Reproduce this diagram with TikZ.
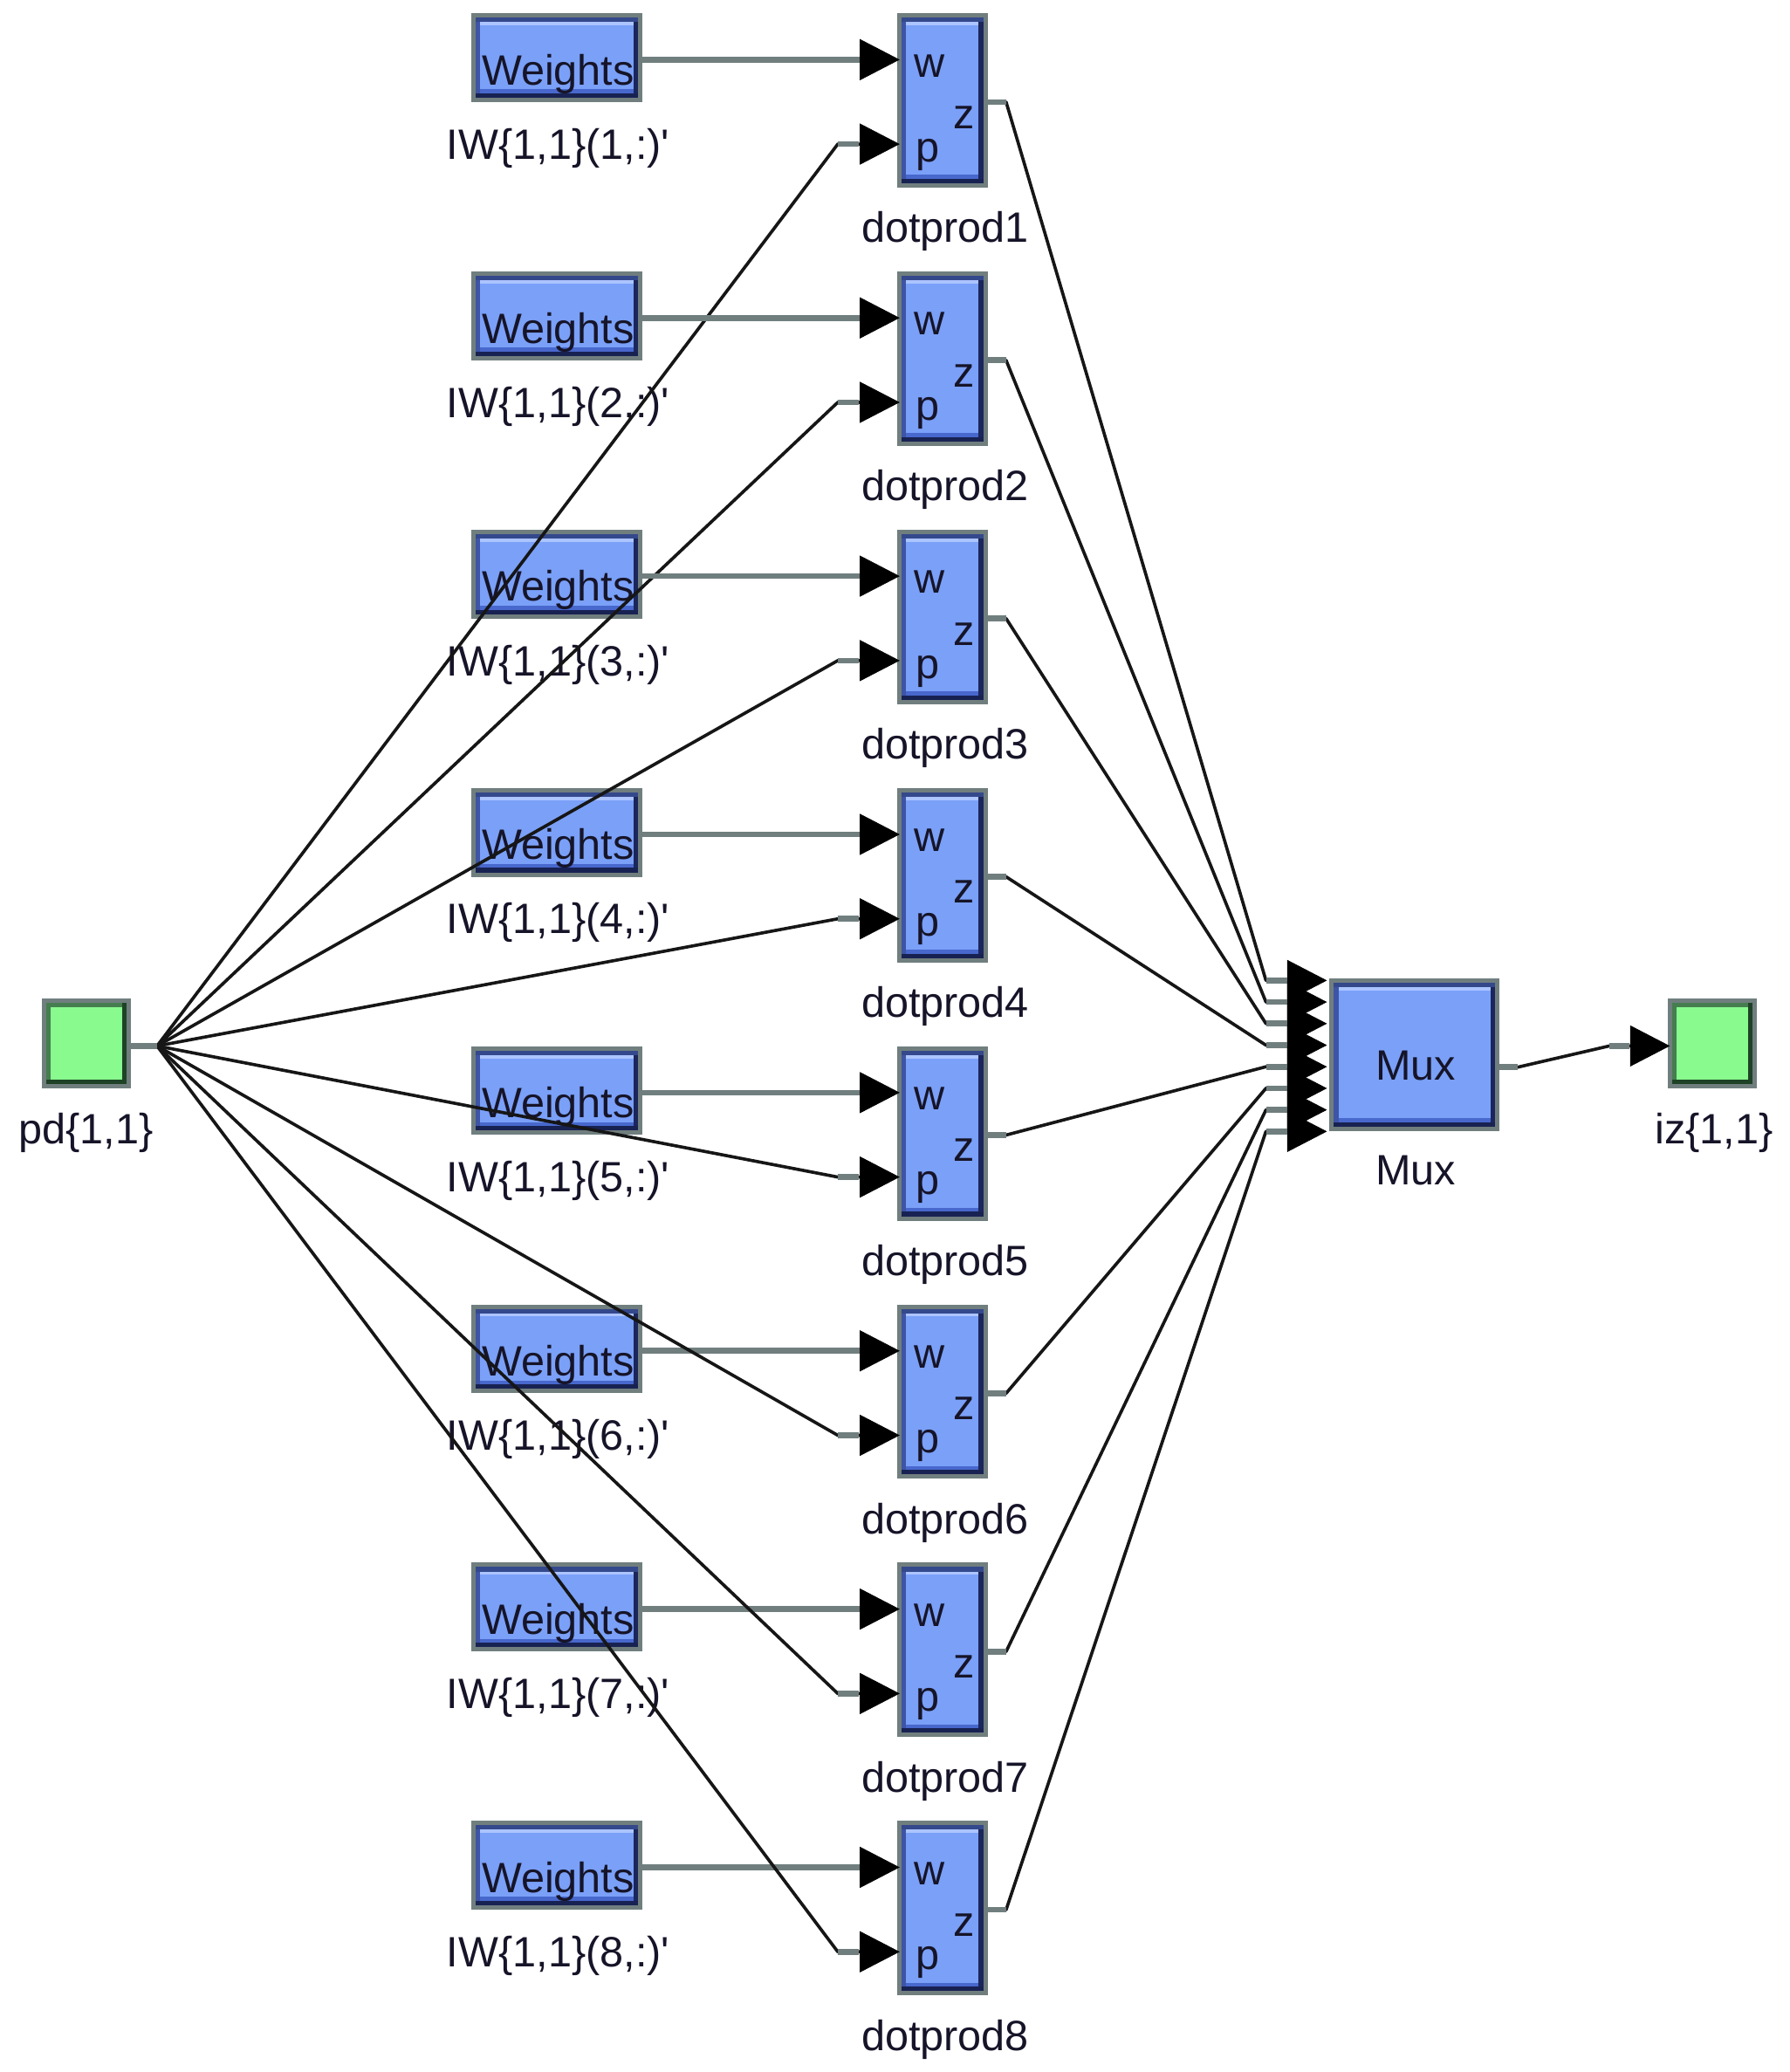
\documentclass[tikz,border=0pt]{standalone}
\usepackage{fontspec}
\setmainfont{Liberation Sans}
\usetikzlibrary{arrows.meta,calc}
\definecolor{bgray}{RGB}{112,126,126}
\definecolor{bfill}{RGB}{122,160,248}
\definecolor{navyT}{RGB}{52,72,140}
\definecolor{navyL}{RGB}{62,84,165}
\definecolor{navyR}{RGB}{26,38,92}
\definecolor{navyB}{RGB}{24,34,82}
\definecolor{bandB}{RGB}{72,104,205}
\definecolor{hilite}{RGB}{172,196,255}
\definecolor{gfill}{RGB}{136,250,142}
\definecolor{gdarkA}{RGB}{70,125,80}
\definecolor{gdarkB}{RGB}{30,66,38}
\definecolor{txt}{RGB}{22,20,40}
\definecolor{wire}{RGB}{22,22,22}
\tikzset{
  box/.style={draw=bgray, line width=3.3pt, inner sep=0pt, outer sep=0pt, anchor=center},
  bluebox/.style={box, fill=bfill, path picture={
      \fill[navyL] (path picture bounding box.south west) rectangle ([xshift=5pt]path picture bounding box.north west);
      \fill[navyR] ([xshift=-5pt]path picture bounding box.south east) rectangle (path picture bounding box.north east);
      \fill[navyT] ([yshift=-5pt]path picture bounding box.north west) rectangle (path picture bounding box.north east);
      \fill[hilite] ([xshift=5pt,yshift=-5pt]path picture bounding box.north west) rectangle ([xshift=-5pt,yshift=-7.5pt]path picture bounding box.north east);
      \fill[bandB] ([xshift=5pt,yshift=5pt]path picture bounding box.south west) rectangle ([xshift=-5pt,yshift=8pt]path picture bounding box.south east);
      \fill[navyB] (path picture bounding box.south west) rectangle ([yshift=5pt]path picture bounding box.south east);
  }},
  greenbox/.style={box, fill=gfill, path picture={
      \fill[gdarkA] (path picture bounding box.south west) rectangle ([xshift=5pt]path picture bounding box.north west);
      \fill[gdarkA] ([yshift=-5pt]path picture bounding box.north west) rectangle (path picture bounding box.north east);
      \fill[gdarkB] ([xshift=-5pt]path picture bounding box.south east) rectangle (path picture bounding box.north east);
      \fill[gdarkB] (path picture bounding box.south west) rectangle ([yshift=5pt]path picture bounding box.south east);
  }},
  wtbox/.style={bluebox, minimum width=125.7pt, minimum height=63.7pt},
  dpbox/.style={bluebox, minimum width=64.7pt, minimum height=128.3pt},
  muxbox/.style={bluebox, minimum width=124.7pt, minimum height=111.7pt},
  iobox/.style={greenbox, minimum width=64.2pt, minimum height=64.7pt},
  lbl/.style={inner sep=0pt, outer sep=0pt, anchor=base, text=txt, font=\fontsize{32}{38}\selectfont},
  wirel/.style={draw=wire, line width=2.4pt, line join=round},
  stub/.style={draw=bgray, line width=4.4pt},
  endtip/.style={-{Triangle[length=30pt,width=31pt,color=black,fill=black,line width=0.4pt]}},
}
\begin{document}
\begin{tikzpicture}[x=1pt,y=-1pt]
\useasboundingbox (0,0) rectangle (1350,1563);
% in/out boxes
\node[iobox] (pd) at (65.2,787) {};
\node[lbl] (pdl) at (65,862.6) {pd\{1,1\}};
\node[iobox] (iz) at (1291.8,787) {};
\node[lbl] (izl) at (1293,862.6) {iz\{1,1\}};
\node[muxbox] (mux) at (1067,795.5) {};
\node[lbl] (muxt) at (1068,814.6) {Mux};
\node[lbl] (muxl) at (1068,894) {Mux};
\coordinate (pdfan) at (118.5,789);
% rows
\foreach \i in {1,...,8}{
  \pgfmathsetmacro{\o}{(\i-1)*194.8}
  \pgfmathsetmacro{\mi}{739.6+(\i-1)*16.27}
  \node[wtbox] (w\i) at (420,43.5+\o) {};
  \node[lbl] (wt\i) at (421,64+\o) {Weights};
  \node[lbl] (wl\i) at (421,120+\o) {IW\{1,1\}(\i,:)\textquotesingle};
  \node[dpbox] (d\i) at (711,75.8+\o) {};
  \node[lbl] (pw\i) at (701,58+\o) {w};
  \node[lbl] (pz\i) at (727,97+\o) {z};
  \node[lbl] (pp\i) at (700,122+\o) {p};
  \node[lbl] (dl\i) at (713,183+\o) {dotprod\i};
  \coordinate (dw\i) at (678,45+\o);
  \coordinate (ps\i) at (632,108.7+\o);
  \coordinate (dp\i) at (678,108.7+\o);
  \coordinate (zs\i) at (759,77+\o);
  \coordinate (mi\i) at (955,\mi);
  \coordinate (ma\i) at (1001,\mi);
}
% connectors
\foreach \i in {1,...,8}{
  \draw[stub,endtip] (w\i.east |- dw\i) -- (d\i.west |- dw\i);
  \draw[wirel,endtip] (pdfan) -- (ps\i) -- (d\i.west |- dp\i);
  \draw[stub] (ps\i) -- ([xshift=16pt]ps\i);
  \draw[wirel,endtip] (d\i.east |- zs\i) -- (zs\i) -- (mi\i) -- (ma\i);
  \draw[stub] (d\i.east |- zs\i) -- (zs\i);
  \draw[stub] (mi\i) -- ([xshift=16pt]mi\i);
}
\draw[stub] (pd.east |- pdfan) -- (pdfan);
\coordinate (mo) at (1145,805);
\coordinate (ii) at (1214,789);
\draw[wirel,endtip] (mux.east |- mo) -- (mo) -- (ii) -- (iz.west |- ii);
\draw[stub] (mux.east |- mo) -- (mo);
\draw[stub] (ii) -- ([xshift=15pt]ii);
\end{tikzpicture}
\end{document}
